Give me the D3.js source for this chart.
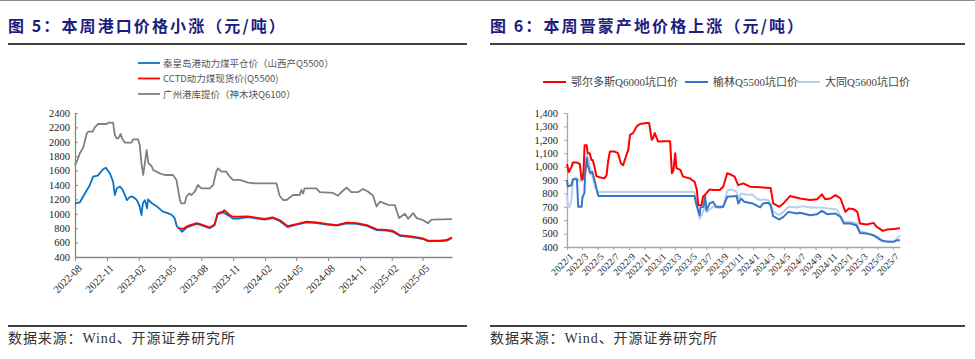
<!DOCTYPE html>
<html><head><meta charset="utf-8">
<script src="https://cdn.jsdelivr.net/npm/d3@7"></script>
<style>body{margin:0;background:#fff}svg{display:block}</style>
</head><body><svg id="c" width="975" height="359"></svg>
<script>
// ---------- DATA: left chart (图5) ----------
const leftTitle = "图 5：本周港口价格小涨（元/吨）";
const leftSeriesNames = ["秦皇岛港动力煤平仓价（山西产Q5500）", "CCTD动力煤现货价(Q5500)", "广州港库提价（神木块Q6100）"];
const leftXTicks = ["2022-08","2022-11","2023-02","2023-05","2023-08","2023-11","2024-02","2024-05","2024-08","2024-11","2025-02","2025-05"];
const leftYTicks = [400,600,800,1000,1200,1400,1600,1800,2000,2200,2400];
const gzPrice = [["2022-08-01",1678],["2022-08-07",1737],["2022-08-15",1840],["2022-08-25",1923],["2022-09-04",2116],["2022-09-08",2140],["2022-09-21",2140],["2022-09-27",2200],["2022-10-07",2247],["2022-10-31",2247],["2022-11-05",2265],["2022-11-19",2265],["2022-11-24",2095],["2022-11-29",2049],["2022-12-04",2049],["2022-12-11",2108],["2022-12-16",2035],["2022-12-23",1989],["2023-01-11",1989],["2023-01-16",2035],["2023-01-30",2035],["2023-02-04",1955],["2023-02-09",1701],["2023-02-14",1539],["2023-02-24",1886],["2023-03-01",1705],["2023-03-10",1664],["2023-03-15",1608],["2023-04-03",1562],["2023-04-17",1539],["2023-05-11",1539],["2023-05-21",1470],["2023-05-31",1192],["2023-06-04",1145],["2023-06-14",1145],["2023-06-19",1238],["2023-06-28",1284],["2023-07-03",1260],["2023-07-13",1307],["2023-07-22",1400],["2023-08-01",1354],["2023-08-25",1354],["2023-09-04",1400],["2023-09-13",1585],["2023-09-18",1631],["2023-09-28",1585],["2023-10-12",1585],["2023-10-22",1516],["2023-10-31",1470],["2023-11-20",1470],["2023-12-14",1432],["2024-01-02",1423],["2024-03-05",1423],["2024-03-14",1250],["2024-03-24",1192],["2024-04-03",1192],["2024-04-22",1261],["2024-05-11",1261],["2024-05-16",1330],["2024-05-21",1280],["2024-05-25",1354],["2024-06-28",1354],["2024-07-08",1300],["2024-08-15",1290],["2024-08-30",1251],["2024-09-08",1300],["2024-09-24",1365],["2024-10-07",1300],["2024-10-26",1300],["2024-11-10",1345],["2024-11-24",1310],["2024-12-09",1250],["2024-12-19",1100],["2024-12-29",1168],["2025-01-22",1125],["2025-02-10",1120],["2025-02-22",941],["2025-03-11",1000],["2025-03-20",930],["2025-04-04",1010],["2025-04-14",940],["2025-04-28",920],["2025-05-17",870],["2025-05-27",920],["2025-07-25",925]];
const qhdPrice = [["2022-08-01",1145],["2022-08-15",1160],["2022-08-30",1285],["2022-09-13",1400],["2022-09-22",1515],["2022-10-06",1530],["2022-10-21",1618],["2022-10-29",1640],["2022-11-10",1560],["2022-11-19",1446],["2022-11-24",1261],["2022-11-30",1354],["2022-12-09",1380],["2022-12-17",1330],["2022-12-29",1190],["2023-01-07",1237],["2023-01-15",1237],["2023-01-27",1190],["2023-02-04",1100],["2023-02-09",983],["2023-02-13",1145],["2023-02-19",1190],["2023-02-25",1075],["2023-02-28",1200],["2023-03-11",1145],["2023-03-26",1100],["2023-04-12",1030],["2023-04-26",1010],["2023-05-08",983],["2023-05-16",936],["2023-05-22",826],["2023-05-31",790],["2023-06-06",750],["2023-06-20",810],["2023-07-04",835],["2023-07-19",860],["2023-08-02",840],["2023-08-16",815],["2023-08-25",800],["2023-09-08",840],["2023-09-17",990],["2023-10-02",1020],["2023-10-22",965],["2023-10-31",935],["2023-11-20",935],["2023-12-10",950],["2023-12-19",950],["2024-01-31",918],["2024-02-23",940],["2024-03-14",900],["2024-04-06",815],["2024-05-02",848],["2024-05-31",880],["2024-06-29",870],["2024-07-28",850],["2024-08-26",835],["2024-09-24",868],["2024-10-23",860],["2024-11-21",832],["2024-12-20",772],["2025-01-18",765],["2025-02-04",750],["2025-02-24",695],["2025-04-03",672],["2025-05-02",650],["2025-05-16",620],["2025-06-20",620],["2025-07-10",628],["2025-07-25",665]];
const cctdPrice = [["2023-05-25",800],["2023-06-08",790],["2023-06-20",825],["2023-07-04",850],["2023-07-19",870],["2023-08-02",850],["2023-08-16",826],["2023-08-25",810],["2023-09-08",850],["2023-09-17",1005],["2023-10-02",1030],["2023-10-06",1050],["2023-10-22",983],["2023-10-31",960],["2023-11-20",960],["2023-12-10",965],["2023-12-19",960],["2024-01-31",928],["2024-02-23",951],["2024-03-14",914],["2024-04-06",830],["2024-05-02",858],["2024-05-31",891],["2024-06-29",880],["2024-07-28",860],["2024-08-26",844],["2024-09-24",877],["2024-10-23",870],["2024-11-21",844],["2024-12-20",784],["2025-01-18",777],["2025-02-04",763],["2025-02-24",705],["2025-04-03",682],["2025-05-02",659],["2025-05-16",627],["2025-06-20",627],["2025-07-10",636],["2025-07-25",673]];

// ---------- DATA: right chart (图6) ----------
const rightTitle = "图 6：本周晋蒙产地价格上涨（元/吨）";
const rightSeriesNames = ["鄂尔多斯Q6000坑口价", "榆林Q5500坑口价", "大同Q5600坑口价"];
const rightXTicks = ["2022/1","2022/3","2022/5","2022/7","2022/9","2022/11","2023/1","2023/3","2023/5","2023/7","2023/9","2023/11","2024/1","2024/3","2024/5","2024/7","2024/9","2024/11","2025/1","2025/3","2025/5","2025/7"];
const rightYTicks = [400,500,600,700,800,900,1000,1100,1200,1300,1400];
const ordosPrice = [["2022-01-01",1020],["2022-01-08",960],["2022-01-19",1000],["2022-01-24",1030],["2022-02-09",1030],["2022-02-20",1020],["2022-02-27",905],["2022-03-03",905],["2022-03-07",970],["2022-03-11",1160],["2022-03-19",1160],["2022-03-23",1100],["2022-03-31",1100],["2022-04-07",1050],["2022-04-12",1050],["2022-04-20",988],["2022-04-26",930],["2022-05-09",920],["2022-05-28",912],["2022-06-05",937],["2022-06-11",1037],["2022-06-18",1112],["2022-07-07",1112],["2022-07-20",1100],["2022-07-31",1025],["2022-08-09",1010],["2022-08-22",1087],["2022-08-29",1125],["2022-09-05",1237],["2022-09-17",1250],["2022-10-01",1300],["2022-10-14",1318],["2022-11-09",1325],["2022-11-19",1325],["2022-11-29",1200],["2022-12-04",1213],["2022-12-11",1250],["2022-12-24",1187],["2023-01-14",1190],["2023-02-09",1190],["2023-02-16",950],["2023-02-22",970],["2023-03-01",1100],["2023-03-06",988],["2023-03-21",975],["2023-04-01",925],["2023-04-27",912],["2023-05-16",887],["2023-05-25",825],["2023-05-30",712],["2023-06-12",712],["2023-06-18",775],["2023-07-01",800],["2023-07-14",830],["2023-07-27",825],["2023-08-23",825],["2023-09-05",850],["2023-09-21",950],["2023-10-08",937],["2023-10-20",925],["2023-10-28",887],["2023-11-03",862],["2023-11-23",875],["2023-12-19",850],["2024-01-28",845],["2024-03-09",841],["2024-03-19",725],["2024-04-12",700],["2024-04-28",725],["2024-05-24",780],["2024-07-02",762],["2024-08-11",750],["2024-09-07",756],["2024-09-26",793],["2024-10-09",756],["2024-10-29",762],["2024-11-18",787],["2024-12-08",762],["2024-12-27",662],["2025-01-10",687],["2025-01-29",681],["2025-02-12",662],["2025-02-22",575],["2025-03-21",568],["2025-04-16",580],["2025-04-29",550],["2025-05-23",520],["2025-06-08",530],["2025-07-04",535],["2025-07-29",540]];
const yulinPrice = [["2022-01-01",900],["2022-01-04",850],["2022-01-19",862],["2022-01-24",905],["2022-02-09",905],["2022-02-14",700],["2022-02-27",700],["2022-03-03",775],["2022-03-10",800],["2022-03-13",937],["2022-03-20",1063],["2022-03-23",1012],["2022-04-02",950],["2022-04-10",962],["2022-04-22",875],["2022-04-26",837],["2022-05-04",780],["2023-05-16",780],["2023-05-22",725],["2023-06-05",637],["2023-06-08",695],["2023-06-20",700],["2023-06-26",780],["2023-07-02",675],["2023-07-14",725],["2023-07-27",737],["2023-08-08",700],["2023-09-05",700],["2023-09-21",775],["2023-10-28",780],["2023-11-03",725],["2023-11-14",762],["2023-11-27",737],["2023-12-29",725],["2024-01-28",695],["2024-02-08",725],["2024-02-28",730],["2024-03-09",712],["2024-03-19",630],["2024-04-12",605],["2024-04-28",625],["2024-05-18",662],["2024-06-20",650],["2024-07-02",655],["2024-08-11",637],["2024-09-07",645],["2024-09-26",670],["2024-10-16",645],["2024-11-18",650],["2024-12-08",625],["2024-12-21",575],["2025-01-16",575],["2025-02-08",562],["2025-02-22",505],["2025-03-21",500],["2025-04-16",488],["2025-05-06",462],["2025-05-19",448],["2025-06-08",440],["2025-07-04",440],["2025-07-19",450],["2025-07-29",450]];
const datongPrice = [["2022-01-01",780],["2022-01-05",700],["2022-01-12",700],["2022-01-19",760],["2022-01-24",900],["2022-02-05",920],["2022-02-12",905],["2022-02-25",890],["2022-03-05",900],["2022-03-13",1000],["2022-03-20",1087],["2022-03-27",1050],["2022-04-05",960],["2022-04-15",900],["2022-04-22",845],["2022-05-02",810],["2023-05-16",810],["2023-05-25",700],["2023-06-05",610],["2023-06-15",650],["2023-06-25",700],["2023-07-02",660],["2023-07-14",680],["2023-07-27",700],["2023-08-23",690],["2023-09-05",700],["2023-09-21",820],["2023-10-08",830],["2023-10-28",812],["2023-11-03",762],["2023-11-14",800],["2023-12-19",787],["2023-12-26",795],["2024-01-15",762],["2024-01-28",750],["2024-02-08",755],["2024-02-28",750],["2024-03-09",725],["2024-03-19",665],["2024-04-12",637],["2024-04-28",662],["2024-05-18",700],["2024-06-20",695],["2024-07-14",705],["2024-08-11",695],["2024-09-07",695],["2024-10-03",692],["2024-11-23",680],["2024-12-21",587],["2025-01-16",587],["2025-02-12",575],["2025-02-22",517],["2025-03-21",505],["2025-04-16",488],["2025-05-06",475],["2025-05-19",443],["2025-07-04",440],["2025-07-17",462],["2025-07-29",487]];
const sourceText = "数据来源：Wind、开源证券研究所";

// ---------- DRAW ----------
const svg = d3.select("#c");
const parse = d3.utcParse("%Y-%m-%d");
const CJK = "'Noto Sans CJK SC', sans-serif";
const SERIF = "'Liberation Serif', 'Times New Roman', 'Noto Sans CJK SC', serif";

// top rule
svg.append("line").attr("x1",0).attr("x2",975).attr("y1",0.5).attr("y2",0.5).attr("stroke","#8c8c8c").attr("stroke-width",1);

function header(x, x2, title) {
  svg.append("text").attr("x", x).attr("y", 32).text(title)
    .attr("font-family", CJK).attr("font-weight", "bold").attr("font-size", 16)
    .attr("letter-spacing", 2.1).attr("fill", "#1d1d80");
  svg.append("line").attr("x1", x).attr("x2", x2).attr("y1", 44).attr("y2", 44).attr("stroke", "#000").attr("stroke-width", 1.5);
  svg.append("line").attr("x1", x).attr("x2", x2).attr("y1", 326).attr("y2", 326).attr("stroke", "#000").attr("stroke-width", 1.5);
  svg.append("text").attr("x", x).attr("y", 343).text(sourceText)
    .attr("font-family", SERIF).attr("font-size", 14).attr("letter-spacing", 0.9).attr("fill", "#333");
}
header(8, 467, leftTitle);
header(490, 965, rightTitle);

// ----- left chart -----
{
  const x = d3.scaleUtc().domain([parse("2022-08-01"), parse("2025-07-25")]).range([75, 452]);
  const y = d3.scaleLinear().domain([400, 2400]).range([257, 113]);
  const tickDates = leftXTicks.map(s => parse(s + "-01"));
  const gx = svg.append("g").attr("transform", "translate(0,257)")
    .call(d3.axisBottom(x).tickValues(tickDates).tickSize(4).tickSizeOuter(0).tickFormat(d3.utcFormat("%Y-%m")));
  gx.select(".domain").attr("stroke", "#868686").attr("stroke-width", 1.3);
  gx.selectAll(".tick line").attr("stroke", "#868686");
  gx.selectAll(".tick text").attr("font-family", SERIF).attr("font-size", 10.5).attr("fill", "#222")
    .attr("text-anchor", "end").attr("dy", 0).attr("transform", "translate(2,7) rotate(-45)");
  const gy = svg.append("g").attr("transform", "translate(75,0)")
    .call(d3.axisLeft(y).tickValues(leftYTicks).tickSize(-3).tickSizeOuter(0).tickFormat(d3.format("d")));
  gy.select(".domain").attr("stroke", "#868686").attr("stroke-width", 1.3);
  gy.selectAll(".tick line").attr("stroke", "#868686");
  gy.selectAll(".tick text").attr("font-family", SERIF).attr("font-size", 10.5).attr("fill", "#222").attr("x", -5);
  const line = d3.line().x(d => x(parse(d[0]))).y(d => y(d[1]));
  const series = [[gzPrice, "#808080"], [qhdPrice, "#0a72c4"], [cctdPrice, "#ff0000"]];
  series.forEach(([data, c]) => svg.append("path").attr("d", line(data)).attr("fill", "none").attr("stroke", c).attr("stroke-width", 1.8).attr("stroke-linejoin", "round"));
  // legend
  const lc = ["#0a72c4", "#ff0000", "#808080"];
  leftSeriesNames.forEach((n, i) => {
    const yy = 63 + i * 15.5;
    svg.append("line").attr("x1", 138).attr("x2", 160).attr("y1", yy).attr("y2", yy).attr("stroke", lc[i]).attr("stroke-width", 1.8);
    svg.append("text").attr("x", 163).attr("y", yy + 3.5).text(n).attr("font-family", CJK).attr("font-size", 9.5).attr("fill", "#555");
  });
}

// ----- right chart -----
{
  const x = d3.scaleUtc().domain([parse("2022-01-01"), parse("2025-07-29")]).range([567, 900]);
  const y = d3.scaleLinear().domain([400, 1400]).range([247, 113]);
  const tickDates = rightXTicks.map(s => { const [yy, mm] = s.split("/"); return new Date(Date.UTC(+yy, +mm - 1, 1)); });
  const gx = svg.append("g").attr("transform", "translate(0,247)")
    .call(d3.axisBottom(x).tickValues(tickDates).tickSize(3).tickSizeOuter(0).tickFormat((d, i) => rightXTicks[i]));
  gx.select(".domain").attr("stroke", "#a6a6a6").attr("stroke-width", 1.3);
  gx.selectAll(".tick line").attr("stroke", "#a6a6a6");
  gx.selectAll(".tick text").attr("font-family", SERIF).attr("font-size", 9.5).attr("fill", "#222")
    .attr("text-anchor", "end").attr("dy", 0).attr("transform", "translate(2,6) rotate(-45)");
  const gy = svg.append("g").attr("transform", "translate(567,0)")
    .call(d3.axisLeft(y).tickValues(rightYTicks).tickSize(3).tickSizeOuter(0).tickFormat(d3.format(",")));
  gy.select(".domain").attr("stroke", "#a6a6a6").attr("stroke-width", 1.3);
  gy.selectAll(".tick line").attr("stroke", "#a6a6a6");
  gy.selectAll(".tick text").attr("font-family", SERIF).attr("font-size", 10.5).attr("fill", "#222").attr("x", -9);
  const line = d3.line().x(d => x(parse(d[0]))).y(d => y(d[1]));
  const cols = ["#ff0000", "#3a75c4", "#b7cfec"];
  [[datongPrice, cols[2]], [yulinPrice, cols[1]], [ordosPrice, cols[0]]].forEach(([data, c]) =>
    svg.append("path").attr("d", line(data)).attr("fill", "none").attr("stroke", c).attr("stroke-width", 2).attr("stroke-linejoin", "round"));
  const lx = [543, 685, 797];
  rightSeriesNames.forEach((n, i) => {
    svg.append("line").attr("x1", lx[i]).attr("x2", lx[i] + 23).attr("y1", 82).attr("y2", 82).attr("stroke", cols[i]).attr("stroke-width", 2);
    svg.append("text").attr("x", lx[i] + 28).attr("y", 86).text(n).attr("font-family", SERIF).attr("font-size", 11).attr("fill", "#444");
  });
}
</script></body></html>
